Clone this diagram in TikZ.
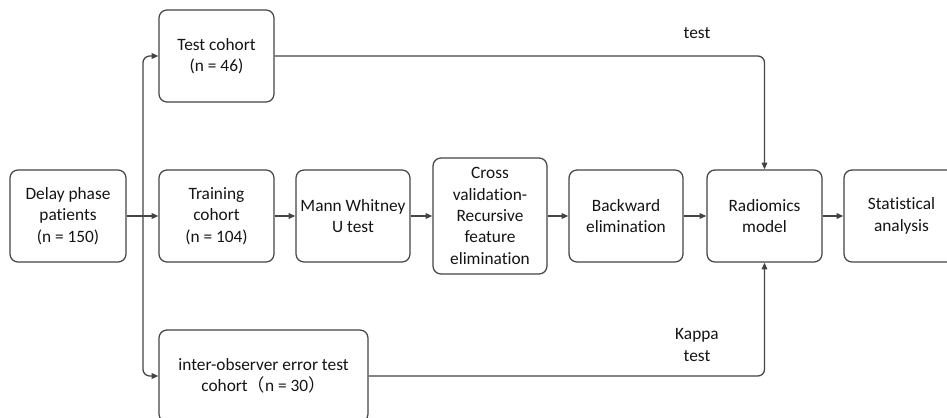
\documentclass[tikz,border=0pt]{standalone}
\usepackage{fontspec}
\setmainfont{Carlito}[Ligatures={NoCommon}]
\newfontfamily\cjk{Noto Sans CJK SC}
\usetikzlibrary{arrows.meta}
\definecolor{linec}{HTML}{444444}
\definecolor{textc}{HTML}{141414}
\tikzset{
  box/.style={draw=linec, line width=0.95pt, rounded corners=6pt, inner sep=0pt,
    align=center, text=textc, font=\fontsize{13}{16}\selectfont},
  conn/.style={draw=linec, line width=0.95pt, -{Triangle[length=5pt,width=4.2pt]}},
  lbl/.style={text=textc, align=center, font=\fontsize{13}{16}\selectfont}
}
\begin{document}
\begin{tikzpicture}[x=0.75pt,y=-0.75pt]
\useasboundingbox (0,0) rectangle (947,418);
\clip (0,0) rectangle (947,418);
\node[box, minimum width=116*0.75pt, minimum height=92*0.75pt] (delay) at (68,216) {Delay phase\\patients\\(n = 150)};
\node[box, minimum width=115*0.75pt, minimum height=92*0.75pt] (test) at (216.5,56) {Test cohort\\(n = 46)};
\node[box, minimum width=115*0.75pt, minimum height=92*0.75pt] (train) at (216.5,216) {Training\\cohort\\(n = 104)};
\node[box, minimum width=114*0.75pt, minimum height=92*0.75pt] (mann) at (353,216) {Mann Whitney\\U test};
\node[box, minimum width=114*0.75pt, minimum height=116*0.75pt] (cross) at (490,216) {Cross\\validation-\\Recursive\\feature\\elimination};
\node[box, minimum width=114*0.75pt, minimum height=92*0.75pt] (back) at (626,216) {Backward\\elimination};
\node[box, minimum width=115*0.75pt, minimum height=92*0.75pt] (radio) at (764.5,216) {Radiomics\\model};
\node[box, minimum width=115*0.75pt, minimum height=92*0.75pt] (stat) at (901.5,216) {Statistical\\analysis};
\node[box, minimum width=209*0.75pt, minimum height=92*0.75pt] (inter) at (263.5,376) {inter-observer error test\\cohort{\cjk （}n = 30{\cjk ）}};
\coordinate (br) at (143,216);
\draw[conn] (delay.east) -- (train.west);
\draw[conn, rounded corners=5pt] (br) |- (test.west);
\draw[conn, rounded corners=5pt] (br) |- (inter.west);
\draw[conn] (train.east) -- (mann.west);
\draw[conn] (mann.east) -- (cross.west);
\draw[conn] (cross.east) -- (back.west);
\draw[conn] (back.east) -- (radio.west);
\draw[conn] (radio.east) -- (stat.west);
\draw[conn, rounded corners=5pt] (test.east) -| (radio.north);
\draw[conn, rounded corners=5pt] (inter.east) -| (radio.south);
\node[lbl] (ltest) at (697,33) {test};
\node[lbl] (lkappa) at (697,345) {Kappa\\test};
\end{tikzpicture}
\end{document}
